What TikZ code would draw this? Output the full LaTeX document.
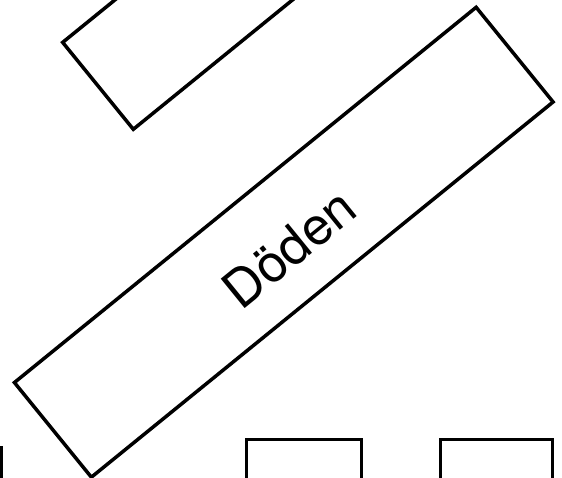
\documentclass[tikz,border=0pt]{standalone}
\usepackage{fontspec}
\setmainfont{TeX Gyre Heros}
\usepackage{tikz}
\usetikzlibrary{positioning,calc}
\definecolor{ink}{HTML}{000000}
\tikzset{
  panel/.style={draw=ink, line width=3.5pt, inner sep=0pt, outer sep=0pt},
}

\begin{document}
\begin{tikzpicture}[x=1pt,y=1pt]
\useasboundingbox (0,0) rectangle (562,477);
\clip (0,0) rectangle (562,477);
\node[panel, rotate=39.1, minimum width=595pt, minimum height=122pt] (doden) at (283.75,234.75) {};
\node[rotate=39.1, text=ink, inner sep=0pt] (dodenlabel) at ($(doden.center)!0.13!(doden.south)$) {\fontsize{52}{60}\selectfont Döden};
\node[panel, rotate=39.1, anchor=south west, minimum width=420pt, minimum height=112pt] (upper) at (133.3,347.7) {};
\node[panel, anchor=north west, minimum width=115pt, minimum height=90pt] (midbox) at (246.7,37.7) {};
\node[panel, minimum width=112pt, minimum height=90pt, right=79pt of midbox] (rightbox) {};
\node[panel, anchor=north east, minimum width=100pt, minimum height=90pt] (leftbox) at (1.5,29) {};
\end{tikzpicture}
\end{document}
